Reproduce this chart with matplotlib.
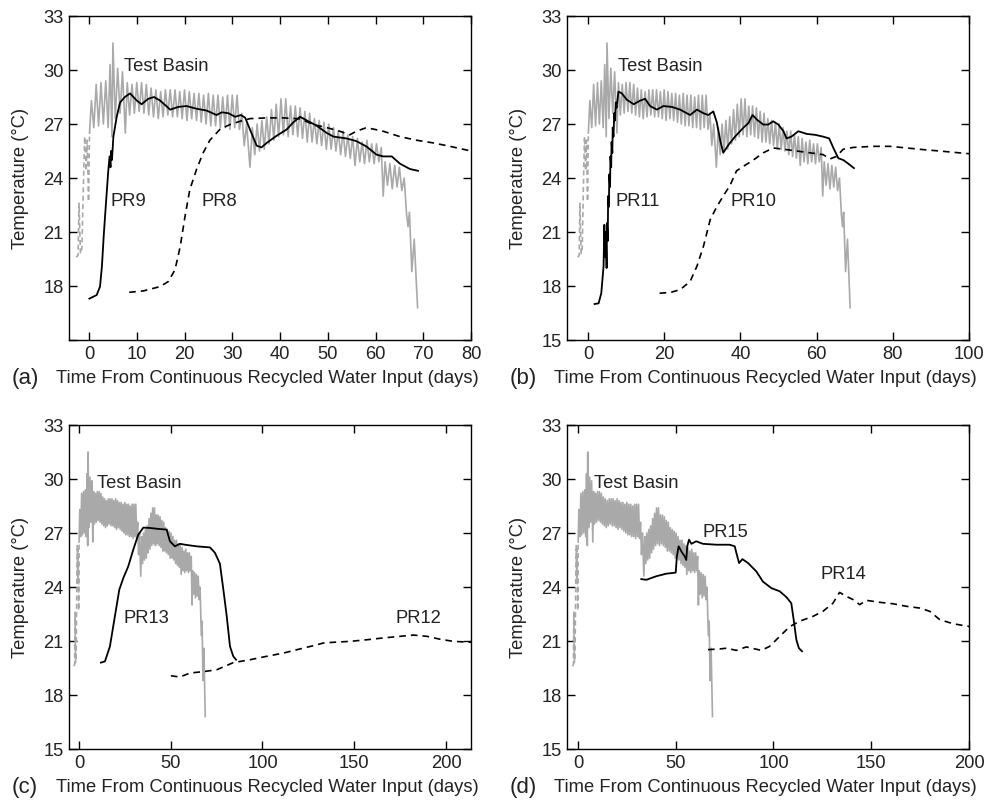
import numpy as np
import matplotlib
matplotlib.use("Agg")
import matplotlib.pyplot as plt

plt.rcParams['font.family'] = ['Liberation Sans', 'DejaVu Sans']

# test basin temperature (same record in every panel)
tb_pre_day = [-2.7, -2.3, -2.1, -1.8, -1.5, -1.1, -0.9, -0.6, -0.4, -0.1, 0.1]
tb_pre_temp = [19.6, 19.7, 22.6, 19.8, 20.1, 24.5, 26.3, 24.4, 26.1, 22.7, 26.5]

tb_day = [0.1, 0.5, 1.0, 1.5, 2.0, 2.5, 3.0, 3.5, 4.0, 4.4, 4.8, 5.0, 5.5, 6.0, 6.5, 7.0,
          7.6, 8.0, 8.5, 9.0, 9.5, 10.0, 10.5, 11.0, 11.5, 12.0, 12.5, 13.0, 13.5, 14.0,
          14.5, 15.0, 15.5, 16.0, 16.5, 17.0, 17.5, 18.0, 18.5, 19.0, 19.5, 20.0, 20.5,
          21.0, 21.5, 22.0, 22.5, 23.0, 23.5, 24.0, 24.5, 25.0, 25.5, 26.0, 26.5, 27.0,
          27.5, 28.0, 28.5, 29.0, 29.5, 30.0, 30.5, 31.0, 31.5, 32.0, 32.5, 33.0, 33.7,
          34.2, 34.7, 35.2, 35.7, 36.2, 36.7, 37.2, 37.7, 38.2, 38.7, 39.2, 39.7, 40.2,
          40.7, 41.2, 41.7, 42.2, 42.7, 43.2, 43.7, 44.2, 44.7, 45.2, 45.7, 46.2, 46.7,
          47.2, 47.7, 48.2, 48.7, 49.2, 49.7, 50.2, 50.7, 51.2, 51.7, 52.2, 52.7, 53.2,
          53.7, 54.2, 54.7, 55.2, 55.7, 56.2, 56.7, 57.2, 57.7, 58.2, 58.7, 59.2, 59.7,
          60.2, 60.7, 61.2, 61.6, 62.0, 62.5, 63.0, 63.5, 64.0, 64.5, 65.0, 65.5, 66.0,
          66.5, 66.8, 67.1, 67.6, 68.1, 68.8]
tb_temp = [26.5, 28.3, 26.8, 29.2, 26.9, 29.3, 27.0, 29.4, 26.8, 30.3, 26.3, 31.5, 27.3, 30.1,
           27.6, 29.9, 26.5, 29.3, 27.5, 29.2, 27.6, 29.3, 27.7, 29.3, 27.6, 29.2, 27.5, 29.0,
           27.4, 28.9, 27.3, 28.8, 27.4, 28.9, 27.5, 28.9, 27.4, 28.9, 27.4, 28.8, 27.3, 28.9,
           27.2, 28.8, 27.3, 28.7, 27.2, 28.7, 27.1, 28.6, 27.0, 28.7, 26.9, 28.6, 26.9, 28.6,
           26.8, 28.5, 26.8, 28.6, 26.7, 28.6, 26.8, 28.6, 26.7, 27.6, 25.8, 27.0, 24.6, 26.8,
           25.3, 27.0, 25.5, 27.2, 25.6, 27.4, 25.9, 27.8, 26.1, 28.1, 26.3, 28.4, 26.4, 28.4,
           26.3, 28.0, 26.4, 28.0, 26.3, 27.9, 26.2, 27.7, 26.0, 27.6, 26.0, 27.3, 25.9, 27.2,
           25.8, 27.1, 25.6, 27.0, 25.6, 26.8, 25.5, 26.6, 25.3, 26.6, 25.2, 26.4, 25.1, 26.3,
           24.7, 26.2, 24.9, 26.0, 24.8, 26.1, 24.9, 25.9, 24.8, 25.9, 24.9, 25.7, 23.0, 24.9,
           23.6, 24.8, 23.4, 24.7, 23.5, 24.6, 23.3, 24.0, 22.0, 21.3, 22.1, 18.8, 20.6, 16.8]

# (a)
pr9_day = [0.07, 1.6, 2.3, 2.7, 3.1, 3.6, 4.0, 4.3, 4.5, 4.6, 4.8, 5.1, 5.8, 6.5, 7.5, 8.6,
           10.0, 11.0, 12.4, 13.6, 14.9, 17.0, 18.7, 20.4, 22.5, 24.6, 26.7, 27.8, 29.2, 30.6,
           31.8, 32.7, 33.7, 35.1, 36.1, 37.2, 39.3, 41.4, 42.8, 44.2, 45.6, 47.7, 49.8, 51.2,
           53.9, 56.0, 58.1, 60.2, 61.6, 63.4, 65.1, 67.2, 68.9]
pr9_temp = [17.3, 17.5, 17.97, 19.1, 20.9, 22.8, 24.3, 25.2, 24.6, 25.5, 25.0, 26.3, 27.4, 28.2,
            28.5, 28.7, 28.3, 28.1, 28.4, 28.5, 28.3, 27.8, 27.95, 28.0, 27.85, 27.75, 27.5,
            27.65, 27.6, 27.4, 27.5, 27.35, 26.7, 25.8, 25.7, 25.95, 26.35, 26.7, 27.1, 27.4,
            27.2, 26.9, 26.5, 26.3, 26.2, 26.05, 25.75, 25.3, 25.2, 25.2, 24.8, 24.5, 24.4]
pr8_day = [8.4, 11.4, 14.9, 16.6, 18.0, 19.1, 20.1, 21.1, 22.5, 23.9, 25.3, 27.4, 29.5, 31.6,
           33.7, 37.2, 40.7, 44.2, 47.0, 49.8, 52.5, 54.6, 56.0, 58.1, 61.6, 65.1, 68.6, 72.1,
           75.6, 80.0]
pr8_temp = [17.65, 17.73, 17.97, 18.25, 18.9, 20.2, 21.87, 23.35, 24.47, 25.4, 26.1, 26.7,
            26.97, 27.15, 27.3, 27.34, 27.34, 27.29, 26.97, 26.8, 26.6, 26.4, 26.6, 26.8, 26.6,
            26.3, 26.1, 25.95, 25.76, 25.5]

# (b)
pr11_day = [1.75, 2.8, 3.5, 4.1, 4.3, 4.5, 4.7, 4.9, 5.0, 5.2, 5.3, 5.5, 5.6, 5.8, 5.9, 6.1,
            6.2, 6.4, 6.5, 6.7, 6.9, 7.1, 7.3, 7.5, 8.0, 8.9, 10.2, 12.0, 13.7, 15.0, 16.3,
            18.1, 19.8, 22.0, 24.2, 26.8, 28.6, 30.3, 31.6, 32.9, 33.8, 34.7, 35.5, 36.9, 38.6,
            40.8, 42.1, 43.2, 44.3, 46.0, 47.3, 48.6, 49.96, 51.3, 52.1, 53.4, 55.2, 57.4, 59.6,
            61.7, 63.3, 64.4, 65.7, 67.0, 68.3, 69.8]
pr11_temp = [17.0, 17.04, 17.6, 19.1, 21.4, 19.6, 21.0, 19.0, 21.5, 20.5, 23.0, 22.4, 24.2, 23.5,
             25.2, 24.6, 26.0, 25.4, 26.8, 26.3, 27.6, 27.2, 28.2, 27.9, 28.8, 28.7, 28.35, 28.1,
             28.3, 28.4, 28.0, 27.8, 28.0, 27.95, 27.8, 27.5, 27.8, 27.6, 27.5, 27.7, 27.1, 26.1,
             25.4, 25.85, 26.3, 26.8, 27.05, 27.5, 27.25, 26.97, 26.97, 27.15, 26.97, 26.6, 26.2,
             26.3, 26.6, 26.45, 26.4, 26.3, 26.2, 25.67, 25.1, 25.0, 24.8, 24.55]
pr10_day = [18.8, 21.6, 24.2, 26.8, 28.6, 30.3, 32.1, 33.8, 35.5, 37.3, 39.0, 40.8, 43.4, 46.0,
            48.6, 51.3, 54.8, 58.3, 61.7, 63.5, 65.2, 67.0, 69.6, 74.8, 79.2, 83.6, 87.9, 92.3,
            100.0]
pr10_temp = [17.6, 17.64, 17.8, 18.25, 19.1, 20.2, 21.7, 22.4, 23.0, 23.6, 24.4, 24.65, 25.0,
             25.4, 25.67, 25.6, 25.5, 25.4, 25.3, 25.06, 25.2, 25.6, 25.7, 25.76, 25.76, 25.67,
             25.58, 25.5, 25.35]

# (c)
pr13_day = [12.0, 14.2, 16.9, 19.6, 22.0, 24.2, 26.9, 29.6, 32.3, 35.1, 38.7, 44.1, 47.8, 49.6,
            52.3, 55.0, 57.8, 64.1, 71.4, 74.1, 76.8, 78.7, 80.5, 82.3, 84.1, 85.6]
pr13_temp = [19.8, 19.87, 20.7, 22.37, 23.85, 24.5, 25.15, 26.07, 26.9, 27.3, 27.28, 27.22,
             27.19, 26.54, 26.26, 26.4, 26.35, 26.26, 26.2, 25.9, 25.3, 23.85, 22.4, 20.7,
             20.15, 19.96]
pr12_day = [50.1, 55.0, 60.5, 67.8, 75.0, 84.1, 93.2, 102.3, 111.4, 120.4, 127.7, 133.2, 138.6,
            147.7, 156.8, 165.8, 174.9, 182.2, 189.5, 196.7, 204.0, 213.6]
pr12_temp = [19.07, 19.0, 19.22, 19.3, 19.4, 19.8, 19.96, 20.15, 20.33, 20.56, 20.74, 20.89,
             20.93, 20.98, 21.07, 21.17, 21.26, 21.33, 21.26, 21.1, 20.98, 20.93]

# (d)
pr15_day = [32.4, 35.0, 40.1, 45.2, 50.0, 50.6, 51.5, 52.9, 54.6, 55.4, 55.9, 56.8, 58.0, 60.5,
            63.9, 70.8, 77.6, 80.2, 81.0, 82.4, 84.1, 87.0, 91.2, 94.6, 98.9, 103.2, 106.6,
            109.1, 110.3, 111.7, 113.0, 114.6]
pr15_temp = [24.44, 24.4, 24.6, 24.74, 24.8, 25.7, 26.26, 25.98, 25.7, 25.5, 26.26, 26.63, 26.4,
             26.54, 26.4, 26.35, 26.35, 26.26, 25.9, 25.33, 25.55, 25.33, 24.87, 24.3, 23.94,
             23.76, 23.44, 23.1, 22.2, 21.07, 20.6, 20.43]
pr14_day = [66.5, 72.5, 75.9, 81.0, 86.1, 93.8, 98.0, 103.2, 108.3, 113.4, 120.2, 125.3, 130.4,
            133.8, 137.3, 140.7, 144.1, 147.5, 154.3, 161.1, 167.9, 174.8, 179.9, 185.0, 191.8,
            200.0]
pr14_temp = [20.52, 20.56, 20.6, 20.48, 20.67, 20.48, 20.7, 21.26, 21.8, 22.1, 22.37, 22.65,
             23.1, 23.7, 23.48, 23.3, 23.02, 23.26, 23.15, 23.07, 22.93, 22.83, 22.65, 22.19,
             21.96, 21.81]

yticks = [15, 18, 21, 24, 27, 30, 33]
grey = '#a9a9a9'
txt = '#222222'
fs = 13.2

panels = [
    dict(tag='(a)', pos=[0.0701, 0.5755, 0.4086, 0.4045], xlim=(-4.2, 80), xticks=range(0, 81, 10),
         solid=(pr9_day, pr9_temp), dash=(pr8_day, pr8_temp),
         labels=[('Test Basin', 7.3, 30.2), ('PR9', 4.4, 22.7), ('PR8', 23.6, 22.7)], hide15=True),
    dict(tag='(b)', pos=[0.5762, 0.5755, 0.4086, 0.4045], xlim=(-5.5, 100), xticks=range(0, 101, 20),
         solid=(pr11_day, pr11_temp), dash=(pr10_day, pr10_temp),
         labels=[('Test Basin', 8.0, 30.2), ('PR11', 7.2, 22.7), ('PR10', 37.5, 22.7)], hide15=False),
    dict(tag='(c)', pos=[0.0701, 0.0649, 0.4086, 0.4045], xlim=(-5.4, 213.6), xticks=range(0, 201, 50),
         solid=(pr13_day, pr13_temp), dash=(pr12_day, pr12_temp),
         labels=[('Test Basin', 9.6, 29.74), ('PR13', 24.5, 22.24), ('PR12', 172.7, 22.24)], hide15=False),
    dict(tag='(d)', pos=[0.5762, 0.0649, 0.4086, 0.4045], xlim=(-5.6, 200), xticks=range(0, 201, 50),
         solid=(pr15_day, pr15_temp), dash=(pr14_day, pr14_temp),
         labels=[('Test Basin', 8.2, 29.74), ('PR15', 63.6, 27.04), ('PR14', 124.1, 24.7)], hide15=False),
]

fig = plt.figure(figsize=(9.84, 8.01), dpi=100)

for p in panels:
    ax = fig.add_axes(p['pos'])
    ax.plot(tb_pre_day, tb_pre_temp, color=grey, lw=1.2, dashes=(3, 2))
    ax.plot(tb_day, tb_temp, color=grey, lw=1.2)
    ax.plot(*p['solid'], color='black', lw=1.3)
    ax.plot(*p['dash'], color='black', lw=1.2, dashes=(4, 3))
    for s, x, y in p['labels']:
        ax.text(x, y, s, fontsize=fs, color=txt, ha='left', va='center')
    ax.set_xlim(*p['xlim'])
    ax.set_ylim(15, 33)
    ax.set_xticks(list(p['xticks']))
    ax.set_yticks(yticks)
    if p['hide15']:
        ax.set_yticklabels([''] + [str(v) for v in yticks[1:]])
    ax.tick_params(direction='in', length=6, width=1, top=True, right=True,
                   labelsize=fs, labelcolor=txt, pad=4)
    for sp in ax.spines.values():
        sp.set_linewidth(1.0)
    ax.set_ylabel('Temperature (°C)', fontsize=fs, color=txt)
    ax.yaxis.set_label_coords(-0.10, 0.5)

    x0, y0, w, h = p['pos']
    ylab = y0 - 0.0475
    fig.text(x0 - 0.058, ylab, p['tag'], fontsize=16, color=txt, ha='left', va='center')
    fig.text(x0 + w / 2 - 0.003, ylab, 'Time From Continuous Recycled Water Input (days)',
             fontsize=fs, color=txt, ha='center', va='center')

fig.savefig('out.png', dpi=100)
